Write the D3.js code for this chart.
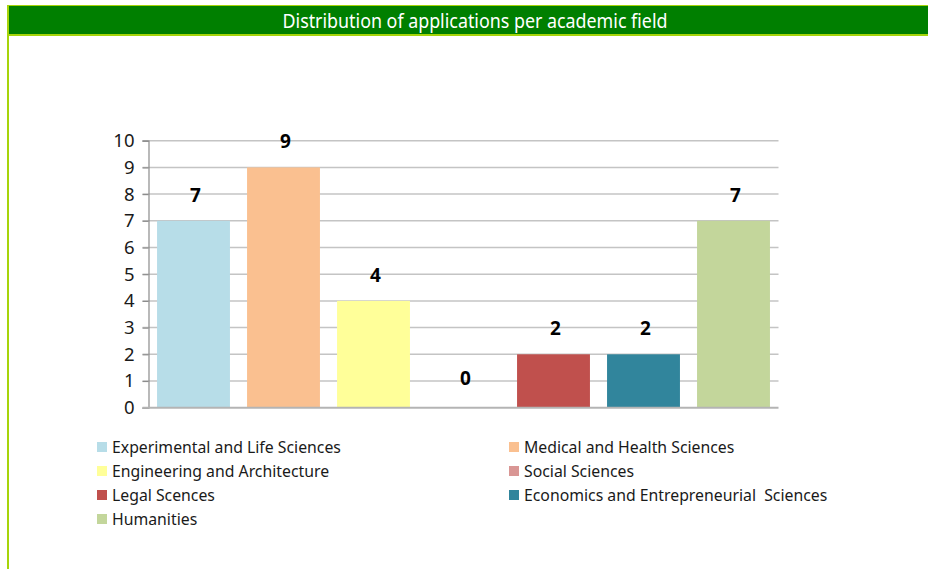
<!DOCTYPE html>
<html>
<head>
<meta charset="utf-8">
<script src="https://cdn.jsdelivr.net/npm/d3@7"></script>
<style>
  body { margin: 0; background: #fff; }
  svg { display: block; }
</style>
</head>
<body>
<div id="chart"></div>
<script>
// data
var fields = ["Experimental and Life Sciences", "Medical and Health Sciences", "Engineering and Architecture",
  "Social Sciences", "Legal Scences", "Economics and Entrepreneurial  Sciences", "Humanities"];
var counts = [7, 9, 4, 0, 2, 2, 7];
var colors = ["#b7dde8", "#fac090", "#ffff99", "#d99694", "#c0504d", "#31859c", "#c3d69b"];
var yTicks = [0, 1, 2, 3, 4, 5, 6, 7, 8, 9, 10];
var title = "Distribution of applications per academic field";

var svgWidth = 928;
var svgHeight = 569;

var svg = d3.select("#chart")
  .append("svg")
  .attr("width", svgWidth)
  .attr("height", svgHeight);

// frame: left line + title band
svg.append("rect")
  .attr("x", 7).attr("y", 5)
  .attr("width", 2).attr("height", svgHeight - 5)
  .attr("fill", "#a6d40a");

svg.append("rect")
  .attr("x", 7).attr("y", 5)
  .attr("width", svgWidth - 7).attr("height", 31)
  .attr("fill", "#a6d40a");

svg.append("rect")
  .attr("x", 9).attr("y", 6)
  .attr("width", svgWidth - 9).attr("height", 28)
  .attr("fill", "#007f00");

svg.append("text")
  .attr("x", 475)
  .attr("y", 28)
  .attr("text-anchor", "middle")
  .attr("fill", "#ffffff")
  .attr("font-family", "'Noto Sans', sans-serif")
  .attr("font-size", "19px")
  .attr("textLength", 385)
  .attr("lengthAdjust", "spacingAndGlyphs")
  .text(title);

var margin = { top: 140.7, left: 148.5 };
var width = 630;
var height = 267;

var chartGroup = svg.append("g")
  .attr("transform", `translate(${margin.left}, ${margin.top})`);

var xBand = d3.scaleBand()
  .domain(fields)
  .range([0, width])
  .paddingInner(0.19)
  .paddingOuter(0.095);

var yLinearScale = d3.scaleLinear()
  .domain([0, 10])
  .range([height, 0]);

// gridlines
chartGroup.selectAll(".grid")
  .data(yTicks.filter(d => d > 0))
  .enter()
  .append("line")
  .attr("class", "grid")
  .attr("x1", -6)
  .attr("x2", width)
  .attr("y1", d => yLinearScale(d))
  .attr("y2", d => yLinearScale(d))
  .attr("stroke", "#c4c4c4")
  .attr("stroke-width", 1.5);

var leftAxis = d3.axisLeft(yLinearScale)
  .tickValues(yTicks)
  .tickSize(6)
  .tickPadding(8);

var yAxis = chartGroup.append("g")
  .call(leftAxis);

yAxis.select(".domain").attr("stroke", "#8c8c8c").attr("stroke-width", 1.2);
yAxis.selectAll(".tick line").attr("stroke", "#8c8c8c").attr("stroke-width", 1.2);
yAxis.selectAll(".tick text")
  .attr("fill", "#1a1a1a")
  .attr("font-family", "'Noto Sans', sans-serif")
  .attr("font-size", "18.5px");

// bars
chartGroup.selectAll(".bar")
  .data(counts)
  .enter()
  .append("rect")
  .attr("class", "bar")
  .attr("x", (d, i) => xBand(fields[i]))
  .attr("y", d => yLinearScale(d))
  .attr("width", xBand.bandwidth())
  .attr("height", d => height - yLinearScale(d))
  .attr("fill", (d, i) => colors[i]);

// baseline
chartGroup.append("line")
  .attr("x1", -6).attr("x2", width)
  .attr("y1", height).attr("y2", height)
  .attr("stroke", "#b4b4b4")
  .attr("stroke-width", 2);

// value labels
chartGroup.selectAll(".val")
  .data(counts)
  .enter()
  .append("text")
  .attr("class", "val")
  .attr("x", (d, i) => xBand(fields[i]) + xBand.bandwidth() / 2 + 2)
  .attr("y", d => yLinearScale(d) - (d === 0 ? 23 : 19))
  .attr("text-anchor", "middle")
  .attr("font-family", "'Noto Sans', sans-serif")
  .attr("font-weight", "bold")
  .attr("font-size", "19px")
  .attr("fill", "#000")
  .text(d => d);

// legend, two columns
var legend = svg.append("g");
var items = legend.selectAll("g")
  .data(fields)
  .enter()
  .append("g")
  .attr("transform", (d, i) => `translate(${i % 2 === 0 ? 97 : 509}, ${442 + Math.floor(i / 2) * 24})`);

items.append("rect")
  .attr("width", 10)
  .attr("height", 10)
  .attr("fill", (d, i) => colors[i]);

items.append("text")
  .attr("x", 15)
  .attr("y", 10.5)
  .attr("font-family", "'Noto Sans', sans-serif")
  .attr("font-size", "15.8px")
  .attr("fill", "#1a1a1a")
  .style("white-space", "pre")
  .text(d => d);
</script>
</body>
</html>
